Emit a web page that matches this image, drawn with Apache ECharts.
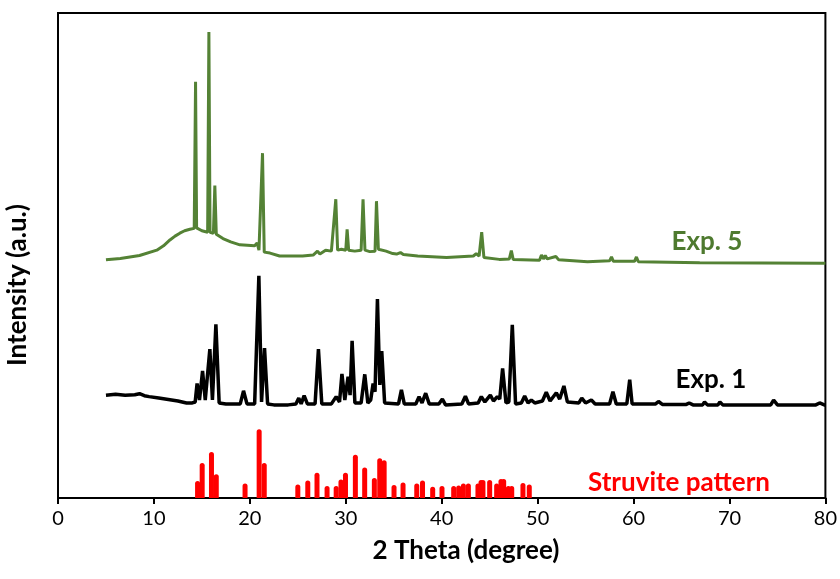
<!DOCTYPE html>
<html>
<head>
<meta charset="utf-8">
<script src="https://cdn.jsdelivr.net/npm/echarts@6/dist/echarts.min.js"></script>
<style>html,body{margin:0;padding:0;background:#fff;}#c{width:840px;height:579px;}</style>
</head>
<body>
<div id="c"></div>
<script>
// x tick labels
var xTicks = [0, 10, 20, 30, 40, 50, 60, 70, 80];

// Struvite reference pattern: [2theta, intensity]
var struvite = [
  [14.55,3.5],[15.03,7.2],[16.0,9.5],[16.5,4.9],[19.5,3.0],[20.97,14.2],[21.5,7.2],
  [25.0,2.8],[26.04,3.6],[27.0,5.2],[28.05,2.5],[29.0,2.5],[29.5,3.8],[29.97,5.2],
  [31.0,8.9],[31.97,6.3],[32.98,4.1],[33.54,8.2],[34.0,7.8],[35.03,2.7],[35.97,3.2],
  [37.4,3.0],[38.0,3.6],[39.06,2.3],[40.03,2.5],[41.25,2.5],[41.77,2.6],[42.26,3.0],
  [42.78,3.0],[43.78,3.0],[44.1,3.7],[44.3,3.7],[45.0,3.7],[45.73,3.0],[46.18,3.9],
  [46.46,3.9],[46.95,2.5],[47.3,2.5],[48.47,3.1],[49.13,2.8]
];

// Exp. 1 diffractogram (offset trace): [2theta, intensity]
var exp1 = [
  [5.0,21.2],[6.0,21.4],[7.0,21.2],[8.0,21.3],[8.5,21.5],[9.0,21.1],[9.5,20.9],[10.5,20.6],
  [11.5,20.3],[12.5,20.0],[13.4,19.6],[14.0,19.6],[14.3,19.8],[14.5,23.6],[14.75,20.2],
  [15.07,26.2],[15.35,20.2],[15.83,30.7],[16.1,20.2],[16.46,35.8],[16.8,19.6],[17.5,19.4],
  [19.0,19.4],[19.34,22.1],[19.7,19.4],[20.5,19.4],[20.94,45.8],[21.22,19.8],[21.53,30.9],
  [21.85,19.4],[22.5,19.2],[24.0,19.2],[24.8,19.4],[25.1,20.6],[25.35,19.4],[25.66,21.1],
  [26.0,19.4],[26.8,19.4],[27.15,30.7],[27.5,19.4],[28.5,19.4],[29.0,20.9],[29.35,19.8],
  [29.6,25.6],[29.9,20.2],[30.24,25.0],[30.45,21.2],[30.66,32.4],[30.95,19.6],[31.6,19.6],
  [31.98,25.5],[32.3,19.6],[32.6,20.2],[32.85,23.6],[33.05,21.9],[33.3,41.0],[33.55,23.3],
  [33.75,30.3],[34.05,19.6],[35.5,19.4],[35.8,22.3],[36.1,19.4],[37.3,19.4],[37.64,20.9],
  [37.95,19.6],[38.33,21.6],[38.7,19.4],[39.7,19.4],[40.07,20.4],[40.4,19.2],[42.1,19.4],
  [42.47,21.0],[42.8,19.4],[43.8,19.6],[44.13,20.9],[44.5,19.8],[45.07,21.2],[45.4,20.0],
  [45.8,20.9],[46.05,20.4],[46.35,26.7],[46.7,19.6],[47.0,19.8],[47.36,35.7],[47.7,19.4],
  [48.3,19.6],[48.65,21.0],[49.0,19.6],[49.34,20.2],[49.7,19.6],[50.5,20.0],[50.9,21.8],
  [51.3,20.0],[51.95,21.7],[52.3,20.4],[52.74,23.1],[53.1,19.8],[54.3,19.6],[54.6,20.6],
  [55.0,19.6],[55.6,20.2],[56.0,19.4],[57.5,19.4],[57.85,21.9],[58.2,19.4],[59.3,19.4],
  [59.6,24.4],[59.85,19.4],[62.3,19.4],[62.6,19.9],[63.0,19.3],[65.5,19.3],[65.8,19.6],
  [66.2,19.2],[67.2,19.2],[67.4,19.8],[67.7,19.2],[68.8,19.2],[69.0,19.8],[69.3,19.2],
  [71.7,19.2],[71.9,19.6],[72.2,19.2],[74.3,19.2],[74.6,20.2],[75.0,19.2],[79.0,19.2],
  [79.4,19.6],[80.0,19.1]
];

// Exp. 5 diffractogram (offset trace): [2theta, intensity]
var exp5 = [
  [5.0,49.1],[6.5,49.4],[8.5,50.0],[10.3,51.1],[11.0,52.0],[11.67,53.2],[12.2,54.0],
  [12.7,54.6],[13.2,55.1],[13.75,55.4],[14.2,55.6],[14.34,85.8],[14.45,55.7],[15.0,55.1],
  [15.6,54.8],[15.73,96.1],[15.85,54.8],[16.2,54.6],[16.35,64.4],[16.5,54.4],[17.2,53.5],
  [18.0,52.8],[18.96,52.2],[20.5,52.0],[20.6,51.8],[20.76,52.6],[20.95,51.1],[21.32,71.1],
  [21.5,50.7],[22.1,50.5],[23.1,49.9],[24.2,49.9],[25.5,49.9],[26.6,50.1],[27.05,50.9],
  [27.3,50.3],[27.9,51.1],[28.5,50.9],[28.96,61.6],[29.15,51.1],[29.55,51.3],[30.0,51.1],
  [30.14,55.4],[30.3,51.1],[30.94,50.9],[31.6,51.1],[31.8,61.6],[32.0,51.1],[32.5,50.8],
  [33.05,50.9],[33.2,61.2],[33.4,51.3],[33.6,51.3],[34.2,50.9],[34.9,50.4],[35.1,50.8],
  [35.3,50.3],[35.7,50.6],[36.0,50.2],[37.5,49.9],[40.5,49.6],[43.3,49.9],[43.6,50.4],
  [43.9,49.9],[44.17,54.8],[44.4,49.6],[46.0,49.2],[47.05,49.3],[47.26,51.0],[47.45,49.2],
  [50.2,49.0],[50.4,50.1],[50.6,49.3],[50.8,50.0],[51.0,49.3],[51.9,49.8],[52.2,49.1],
  [55.2,48.7],[57.5,48.9],[57.7,49.7],[57.9,48.8],[60.1,48.8],[60.3,49.7],[60.5,48.7],
  [66.9,48.5],[80.0,48.4]
];

var FONT = 'Lato, "Open Sans", sans-serif';
var chart = echarts.init(document.getElementById('c'), null, {renderer: 'canvas'});
chart.setOption({
  animation: false,
  backgroundColor: '#ffffff',
  grid: {left: 58, right: 14, top: 13, bottom: 81, show: true, borderColor: '#000', borderWidth: 2, containLabel: false},
  xAxis: {
    type: 'value', min: xTicks[0], max: xTicks[xTicks.length - 1], interval: 10,
    axisLine: {show: true, lineStyle: {color: '#000', width: 2}},
    axisTick: {show: true, inside: false, length: 6, lineStyle: {color: '#000', width: 2}},
    axisLabel: {color: '#000', fontSize: 20, fontFamily: FONT, margin: 11},
    splitLine: {show: false}
  },
  yAxis: {
    type: 'value', min: 0, max: 100,
    axisLine: {show: false}, axisTick: {show: false}, axisLabel: {show: false}, splitLine: {show: false}
  },
  series: [
    {type: 'bar', data: struvite, barWidth: 5, itemStyle: {color: '#ff0000', borderRadius: [2.5, 2.5, 0, 0]}, z: 2},
    {type: 'line', data: exp1, showSymbol: false, symbol: 'none', lineStyle: {color: '#000', width: 3.5}, z: 3},
    {type: 'line', data: exp5, showSymbol: false, symbol: 'none', lineStyle: {color: '#548235', width: 3}, z: 3}
  ],
  graphic: [
    {type: 'text', x: 466, y: 551,
      style: {text: '2 Theta (degree)', fill: '#000', font: 'bold 26px ' + FONT, align: 'center', verticalAlign: 'middle'}},
    {type: 'text', x: 18, y: 285, rotation: Math.PI / 2,
      style: {text: 'Intensity (a.u.)', fill: '#000', font: 'bold 26px ' + FONT, align: 'center', verticalAlign: 'middle'}},
    {type: 'text', x: 707, y: 242,
      style: {text: 'Exp. 5', fill: '#4e7a2f', font: 'bold 26px ' + FONT, align: 'center', verticalAlign: 'middle'}},
    {type: 'text', x: 711, y: 380,
      style: {text: 'Exp. 1', fill: '#000', font: 'bold 26px ' + FONT, align: 'center', verticalAlign: 'middle'}},
    {type: 'text', x: 679, y: 483,
      style: {text: 'Struvite pattern', fill: '#ff0000', font: 'bold 26px ' + FONT, align: 'center', verticalAlign: 'middle'}}
  ]
});
</script>
</body>
</html>
